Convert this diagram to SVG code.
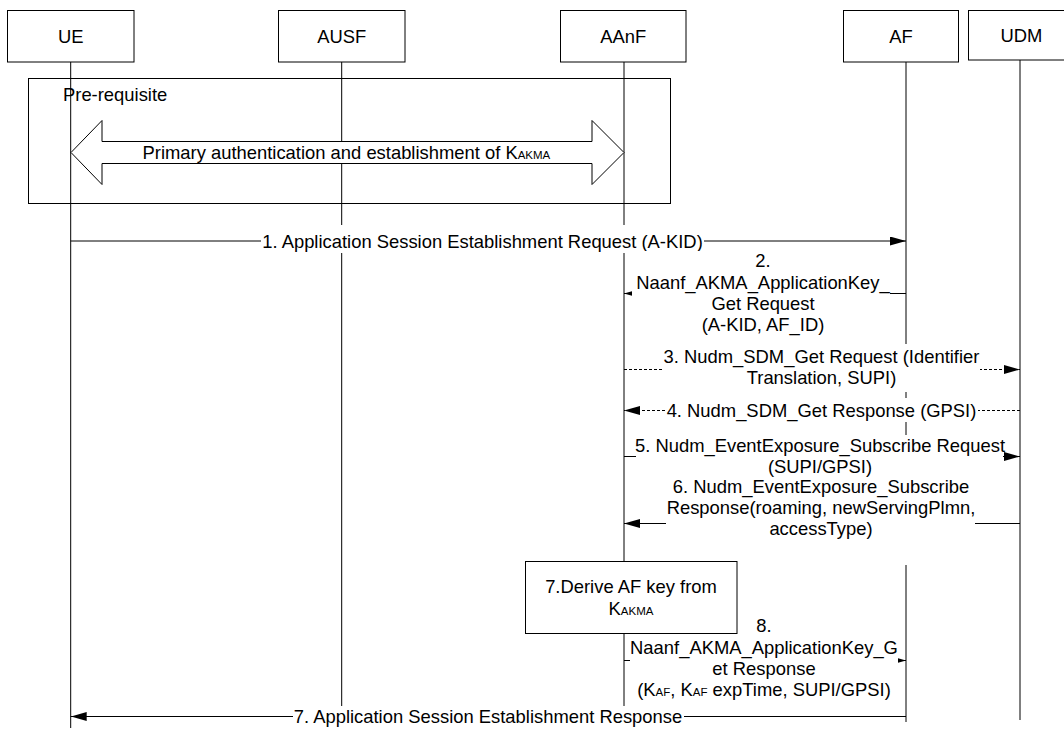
<svg xmlns="http://www.w3.org/2000/svg" width="1064" height="731" viewBox="0 0 1064 731">
<style>
text{font-family:"Liberation Sans",Arial,sans-serif;font-size:18.4px;fill:#000}
.c{text-anchor:middle}
.sub{font-size:11.5px}
.box{fill:#fff;stroke:#000;stroke-width:1}
.life{stroke:#000;stroke-width:1;fill:none}
.frame{fill:none;stroke:#000;stroke-width:1}
.msg{stroke:#000;stroke-width:1;fill:none}
.dash{stroke-dasharray:3,2}
.bg{fill:#fff;stroke:none}
</style>
<defs>
<marker id="ah" viewBox="0 0 16 9" refX="16" refY="4.5" markerWidth="16" markerHeight="9" orient="auto" markerUnits="userSpaceOnUse">
<path d="M0,0 L16,4.5 L0,9 z" fill="#000" stroke="none"/>
</marker>
</defs>

<g id="UE">
<line class="life" x1="70.7" y1="62" x2="70.7" y2="728"/>
<rect class="box" x="7.5" y="10.5" width="126.5" height="51.5"/>
<text class="c" x="70.7" y="42.5">UE</text>
</g>
<g id="AUSF">
<line class="life" x1="341.7" y1="62" x2="341.7" y2="728"/>
<rect class="box" x="278.5" y="10.5" width="126.5" height="51.5"/>
<text class="c" x="341.7" y="42.5">AUSF</text>
</g>
<g id="AAnF">
<line class="life" x1="624" y1="62" x2="624" y2="728"/>
<rect class="box" x="560.5" y="10.5" width="125.5" height="51.5"/>
<text class="c" x="623.3" y="42.5">AAnF</text>
</g>
<g id="AF">
<line class="life" x1="906" y1="62" x2="906" y2="722"/>
<rect class="box" x="843.5" y="10.5" width="115" height="51.5"/>
<text class="c" x="901" y="42.5">AF</text>
</g>
<g id="UDM">
<line class="life" x1="1020" y1="60" x2="1020" y2="720"/>
<rect class="box" x="968.5" y="10.5" width="110" height="49.5"/>
<text class="c" x="1021.5" y="42">UDM</text>
</g>

<g id="prerequisite">
<rect class="frame" x="28.5" y="78.5" width="642" height="125"/>
<text x="63" y="100.5">Pre-requisite</text>
<polygon class="box" points="71,152.5 102,120.5 102,141.5 592,141.5 592,120.5 624,152.5 592,184.5 592,163.5 102,163.5 102,184.5"/>
<text x="142.5" y="158.5">Primary authentication and establishment of K<tspan class="sub">AKMA</tspan></text>
</g>

<g id="connectors">
<g id="m1">
<line class="msg" x1="70.7" y1="241" x2="906" y2="241" marker-end="url(#ah)"/>
<rect class="bg" x="261" y="225" width="443" height="28"/>
<text class="c" x="482.5" y="247.5">1. Application Session Establishment Request (A-KID)</text>
</g>
<g id="m2">
<line class="msg" x1="906" y1="293.5" x2="624" y2="293.5" marker-end="url(#ah)"/>
<rect class="bg" x="632" y="251" width="258" height="86"/>
<text class="c" x="763" y="267">2.</text>
<text class="c" x="763" y="289">Naanf_AKMA_ApplicationKey_</text>
<text class="c" x="763" y="310">Get Request</text>
<text class="c" x="763" y="331">(A-KID, AF_ID)</text>
</g>
<g id="m3">
<line class="msg dash" x1="624" y1="369.5" x2="1020" y2="369.5" marker-end="url(#ah)"/>
<rect class="bg" x="662" y="344" width="318" height="48"/>
<text class="c" x="821.5" y="363">3. Nudm_SDM_Get Request (Identifier</text>
<text class="c" x="821.5" y="384">Translation, SUPI)</text>
</g>
<g id="m4">
<line class="msg dash" x1="1020" y1="410.5" x2="624" y2="410.5" marker-end="url(#ah)"/>
<rect class="bg" x="665" y="398" width="313" height="24"/>
<text class="c" x="821.5" y="417">4. Nudm_SDM_Get Response (GPSI)</text>
</g>
<g id="m5">
<line class="msg" x1="624" y1="456.5" x2="1020" y2="456.5" marker-end="url(#ah)"/>
<rect class="bg" x="636" y="435" width="367" height="43"/>
<text class="c" x="820" y="452">5. Nudm_EventExposure_Subscribe Request</text>
<text class="c" x="820" y="473">(SUPI/GPSI)</text>
</g>
<g id="m6">
<line class="msg" x1="1020" y1="523.5" x2="624" y2="523.5" marker-end="url(#ah)"/>
<rect class="bg" x="666" y="478" width="309" height="87"/>
<text class="c" x="821" y="493">6. Nudm_EventExposure_Subscribe</text>
<text class="c" x="821" y="514">Response(roaming, newServingPlmn,</text>
<text class="c" x="821" y="535">accessType)</text>
</g>
<g id="m8">
<line class="msg" x1="624" y1="660.5" x2="906" y2="660.5" marker-end="url(#ah)"/>
<rect class="bg" x="630" y="618" width="268" height="84"/>
<text class="c" x="764" y="632">8.</text>
<text class="c" x="764" y="653.5">Naanf_AKMA_ApplicationKey_G</text>
<text class="c" x="764" y="674.5">et Response</text>
<text class="c" x="764" y="695.5">(K<tspan class="sub">AF</tspan>, K<tspan class="sub">AF</tspan> expTime, SUPI/GPSI)</text>
</g>
<g id="m9">
<line class="msg" x1="906" y1="716.5" x2="70.7" y2="716.5" marker-end="url(#ah)"/>
<rect class="bg" x="293" y="706" width="391" height="25"/>
<text class="c" x="488" y="723">7. Application Session Establishment Response</text>
</g>
</g>

<g id="derive">
<rect class="box" x="525.5" y="561.5" width="211.5" height="72"/>
<text class="c" x="631" y="593">7.Derive AF key from</text>
<text class="c" x="631" y="615">K<tspan class="sub">AKMA</tspan></text>
</g>
</svg>
